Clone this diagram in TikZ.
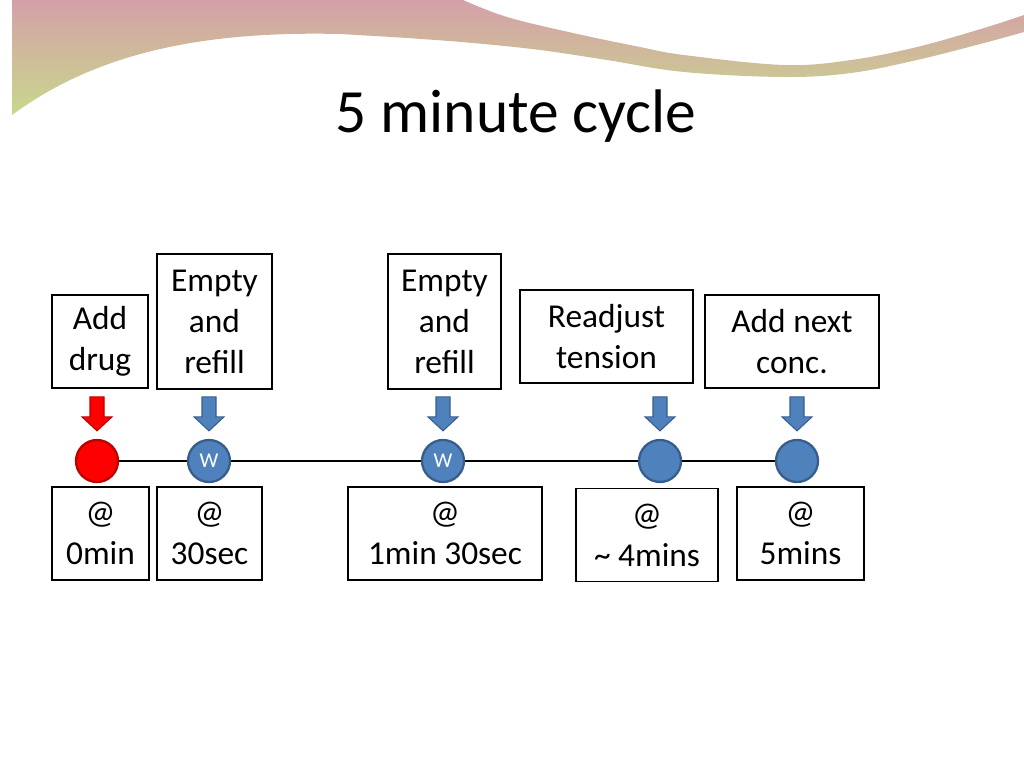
\documentclass[tikz,border=0pt]{standalone}
\usepackage{fontspec}
\setmainfont{Carlito}
\usetikzlibrary{positioning}
\definecolor{wblue}{RGB}{79,129,189}
\definecolor{wbluedark}{RGB}{56,93,138}
\definecolor{dred}{RGB}{190,0,0}
\definecolor{bannerpink}{RGB}{212,160,168}
\definecolor{bannergreen}{RGB}{200,216,140}
\tikzset{
  blockdown/.pic={
    \filldraw[pic actions, line width=0.6pt] (-7,-34) -- (7,-34) -- (7,-14) -- (15,-14) -- (0,0) -- (-15,-14) -- (-7,-14) -- cycle;
  }
}

\begin{document}
\begin{tikzpicture}[x=0.02cm, y=-0.02cm,
  lbl/.style={draw, line width=1.1pt, align=center, inner sep=0pt, font=\fontsize{19}{23.3}\selectfont},
  dot/.style={circle, minimum size=0.84cm, inner sep=0pt, fill=wblue, draw=wbluedark, line width=1.3pt, text=white, font=\fontsize{12}{14}\selectfont},
  reddot/.style={dot, fill=red, draw=dred}]
\useasboundingbox (0,0) rectangle (1024,768);

% banner
\shade[top color=bannerpink, bottom color=bannergreen]
  (12,0) -- (463,0)
  -- plot[smooth, tension=0.6] coordinates {(463,0) (507,17) (573,33) (640,47) (684,55) (784,65) (851,60) (917,47) (984,28) (1024,15)}
  -- (1024,32)
  -- plot[smooth, tension=0.6] coordinates {(1024,32) (984,43) (917,60) (851,73) (784,77) (684,72) (607,60) (540,50) (473,43) (407,38) (340,34)}
  .. controls (210,31) and (100,50) .. (12,115)
  -- cycle;

\node[font=\fontsize{35}{42}\selectfont] (title) at (516,116) {5 minute cycle};

% timeline
\node[reddot] (c1) at (97,461) {};
\node[dot] (c2) at (209,461) {W};
\node[dot] (c3) at (443,461) {W};
\node[dot] (c4) at (660,461) {};
\node[dot] (c5) at (797,461) {};
\draw[line width=1.4pt] (c1) -- (c2) -- (c3) -- (c4) -- (c5);

\path (c1.north) ++(0,-8) pic[fill=red, draw=dred] {blockdown};
\foreach \c in {c2,c3,c4,c5}
  \path (\c.north) ++(0,-8) pic[fill=wblue, draw=wbluedark] {blockdown};

% what happens
\node[lbl, minimum width=1.92cm, minimum height=1.86cm] (drug) at (100,341.5) {Add\\drug};
\node[lbl, minimum width=2.30cm, minimum height=2.70cm] (refill1) at (214.5,321.5) {Empty\\and\\refill};
\node[lbl, minimum width=2.26cm, minimum height=2.70cm] (refill2) at (444.5,321.5) {Empty\\and\\refill};
\node[lbl, minimum width=3.46cm, minimum height=1.86cm] (tension) at (606.5,336.5) {Readjust\\tension};
\node[lbl, minimum width=3.48cm, minimum height=1.86cm] (nextconc) at (792,341.5) {Add next\\conc.};

% when
\foreach \n/\x/\y/\w/\t in {t0/100.5/533.5/1.94/0min, t1/209.5/533.5/2.10/30sec,
    t2/445/533.5/3.88/1min 30sec, t3/647/535/2.84/\textasciitilde{} 4mins, t4/800.5/533.5/2.54/5mins}
  \node[lbl, minimum width=\w cm, minimum height=1.86cm] (\n) at (\x,\y) {@\\\t};
\end{tikzpicture}
\end{document}
